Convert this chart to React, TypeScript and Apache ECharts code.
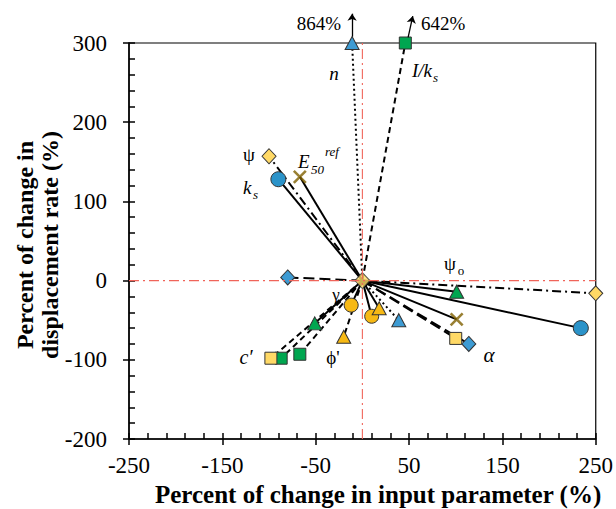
import React, { useEffect, useRef } from "react";
import * as echarts from "echarts";

// tick labels
const xMajorTicks = [-250, -150, -50, 50, 150, 250];
const xMinorTicks = [
  -250, -230, -210, -190, -170, -150, -130, -110, -90, -70, -50, -30, -10, 10, 30, 50, 70, 90, 110,
  130, 150, 170, 190, 210, 230, 250,
];
const yMajorTicks = [-200, -100, 0, 100, 200, 300];

// [% change in input parameter, % change in displacement rate]
const nPoints = [[-11, 300], [39, -50]]; // the first one is really 864%, cut at the top
const iksPoints = [[46, 300], [-67, -93], [-87, -98]]; // the first one is really 642%
const cPoints = [[-98, -98], [100, -73]];
const psiPoints = [[-100, 157], [250, -16]];
const ksPoints = [[-90, 128], [234, -60]];
const e50Points = [[-67, 131], [101, -49]];
const gammaPoints = [[-12, -31], [10, -45]];
const psiOPoints = [[-51, -54], [101, -14]];
const phiPoints = [[-20, -71], [18, -35]];
const alphaPoints = [[-80, 4], [114, -80]];
const basePoint = [[0, 0]];

const SERIF = "Liberation Serif";
const BLUE = "#3d9bd3";
const BLUE_DARK = "#2b93c9";
const GREEN = "#00a650";
const YELLOW = "#ffd966";
const GOLD = "#f7b914";
const OLIVE = "#7f6000";
const RED = "#f0645a";

const DOTTED = [2, 3];
const DASHED = [6, 4];
const LONGDASH = [11, 5];
const DASHDOT = [9, 4, 2, 4];

const CROSS = "path://M0,0L10,10M10,0L0,10";

const params = [
  { name: "n", pts: nPoints, symbol: "triangle", size: [14, 13], color: BLUE, dash: [DOTTED, DOTTED] },
  { name: "I/ks", pts: iksPoints, symbol: "rect", size: 12, color: GREEN, dash: [DASHED, DASHED, DASHED] },
  { name: "c'", pts: cPoints, symbol: "rect", size: 12, color: YELLOW, dash: [DASHED, LONGDASH] },
  { name: "psi", pts: psiPoints, symbol: "diamond", size: [14, 15], color: YELLOW, dash: [DASHDOT, DASHDOT] },
  { name: "ks", pts: ksPoints, symbol: "circle", size: 15, color: BLUE_DARK, dash: ["solid", "solid"] },
  { name: "E50ref", pts: e50Points, symbol: CROSS, size: 12, color: OLIVE, dash: ["solid", "solid"] },
  { name: "gamma", pts: gammaPoints, symbol: "circle", size: 14, color: GOLD, dash: ["solid", "solid"] },
  { name: "psi0", pts: psiOPoints, symbol: "triangle", size: [14, 13], color: GREEN, dash: ["solid", "solid"] },
  { name: "phi'", pts: phiPoints, symbol: "triangle", size: [14, 13], color: GOLD, dash: [DASHED, "solid"] },
  { name: "alpha", pts: alphaPoints, symbol: "diamond", size: [14, 15], color: BLUE, dash: [LONGDASH, LONGDASH] },
];

const txt = (text: string, x: number, y: number, o: any = {}) => ({
  type: "text",
  x,
  y,
  rotation: o.rotation || 0,
  silent: true,
  z: 20,
  style: {
    text,
    fill: "#000",
    fontFamily: SERIF,
    fontSize: o.size || 19,
    fontStyle: o.italic ? "italic" : "normal",
    fontWeight: o.bold ? "bold" : "normal",
    textAlign: o.align || "center",
    textVerticalAlign: "middle",
  },
});

const tickLine = { color: "#000", width: 1.5 };

const App = () => {
  const chartRef = useRef(null);

  useEffect(() => {
    if (!chartRef.current) return;
    const chart = echarts.init(chartRef.current, null, { renderer: "svg" });

    const rays: any[] = [];
    const marks: any[] = [];
    params.forEach((p) => {
      p.pts.forEach((pt, i) => {
        rays.push({
          type: "line",
          data: [[0, 0], pt],
          symbol: "none",
          silent: true,
          clip: false,
          z: 2,
          lineStyle: { color: "#000", width: 2, type: p.dash[i] },
        });
      });
      const isCross = p.symbol === CROSS;
      marks.push({
        type: "scatter",
        name: p.name,
        data: p.pts,
        symbol: p.symbol,
        symbolSize: p.size,
        clip: false,
        z: 3,
        itemStyle: isCross
          ? { color: "none", borderColor: p.color, borderWidth: 2.6 }
          : { color: p.color, borderColor: "#333", borderWidth: 1, opacity: 1 },
      });
    });

    const option = {
      animation: false,
      grid: {
        left: 129,
        right: 20,
        top: 43,
        bottom: 70,
        show: true,
        borderColor: "#000",
        borderWidth: 1.2,
        backgroundColor: "transparent",
      },
      xAxis: [
        {
          type: "value",
          min: -250,
          max: 250,
          position: "bottom",
          axisLine: { onZero: false, lineStyle: { color: "#000", width: 1.5 } },
          axisTick: { inside: false, length: 6, customValues: xMajorTicks, lineStyle: tickLine },
          axisLabel: {
            customValues: xMajorTicks,
            color: "#000",
            fontFamily: SERIF,
            fontSize: 23,
            margin: 15,
          },
          splitLine: { show: false },
        },
        {
          type: "value",
          min: -250,
          max: 250,
          position: "bottom",
          axisLine: { show: false, onZero: false },
          axisTick: { inside: true, length: 6, customValues: xMinorTicks, lineStyle: tickLine },
          axisLabel: { show: false },
          splitLine: { show: false },
        },
      ],
      yAxis: [
        {
          type: "value",
          min: -200,
          max: 300,
          interval: 100,
          position: "left",
          axisLine: { show: true, onZero: false, lineStyle: { color: "#000", width: 1.5 } },
          axisTick: { show: true, inside: false, length: 6, lineStyle: tickLine },
          axisLabel: {
            color: "#000",
            fontFamily: SERIF,
            fontSize: 23,
            margin: 22,
            formatter: (v: number) => (yMajorTicks.includes(v) ? String(v) : ""),
          },
          splitLine: { show: false },
        },
        {
          type: "value",
          min: -200,
          max: 300,
          interval: 100,
          position: "left",
          axisLine: { show: false, onZero: false },
          axisTick: { show: true, inside: true, length: 6, lineStyle: tickLine },
          minorTick: { show: true, splitNumber: 5, length: 6, lineStyle: tickLine },
          axisLabel: { show: false },
          splitLine: { show: false },
        },
      ],
      series: [
        ...rays,
        ...marks,
        {
          type: "scatter",
          name: "base",
          data: basePoint,
          symbol: "diamond",
          symbolSize: [15, 16],
          z: 3,
          itemStyle: { color: YELLOW, borderColor: "#333", borderWidth: 1 },
        },
        {
          type: "line",
          data: [[0, -200], [0, 300]],
          symbol: "none",
          silent: true,
          z: 4,
          lineStyle: { color: RED, width: 1.1, type: [10, 4, 2, 4] },
        },
        {
          type: "line",
          data: [[-250, 0], [250, 0]],
          symbol: "none",
          silent: true,
          z: 4,
          lineStyle: { color: RED, width: 1.1, type: [10, 4, 2, 4] },
        },
        {
          // arrows for the two values cut off at 300 %
          type: "lines",
          coordinateSystem: "cartesian2d",
          clip: false,
          silent: true,
          z: 4,
          symbol: ["none", "arrow"],
          symbolSize: 7,
          lineStyle: { color: "#000", width: 1.3, opacity: 1 },
          data: [
            { coords: [[-11, 308], [-11, 337]] },
            { coords: [[49, 307], [54, 334]] },
          ],
        },
      ],
      graphic: [
        txt("864%", 341, 23, { align: "right" }),
        txt("642%", 421, 23, { align: "left" }),
        txt("n", 334, 73, { italic: true }),
        txt("I/k", 412, 70, { italic: true, align: "left" }),
        txt("s", 433, 77, { italic: true, size: 13, align: "left" }),
        txt("ψ", 249, 154),
        txt("E", 298, 161, { italic: true, align: "left" }),
        txt("50", 311, 169, { italic: true, size: 13, align: "left" }),
        txt("ref", 325, 151, { italic: true, size: 13, align: "left" }),
        txt("k", 243, 187, { italic: true, align: "left" }),
        txt("s", 253, 194, { italic: true, size: 13, align: "left" }),
        txt("γ", 336, 294, { size: 17 }),
        txt("c′", 246, 357, { italic: true, size: 20 }),
        txt("ϕ'", 333, 357, { size: 19 }),
        txt("ψ", 450, 263),
        txt("o", 461, 270, { size: 13 }),
        txt("α", 489, 355, { italic: true, size: 21 }),
        txt("Percent of change in input parameter (%)", 155, 494, { bold: true, size: 25, align: "left" }),
        txt("Percent of change in", 25, 245, { bold: true, size: 24, rotation: Math.PI / 2 }),
        txt("displacement rate (%)", 50, 245, { bold: true, size: 24, rotation: Math.PI / 2 }),
      ],
    };

    chart.setOption(option);

    const handleResize = () => chart.resize();
    window.addEventListener("resize", handleResize);

    return () => {
      window.removeEventListener("resize", handleResize);
      chart.dispose();
    };
  }, []);

  return (
    <div
      ref={chartRef}
      style={{ position: "absolute", left: 0, top: 0, width: "616px", height: "509px", background: "#fff" }}
    />
  );
};

export default App;
